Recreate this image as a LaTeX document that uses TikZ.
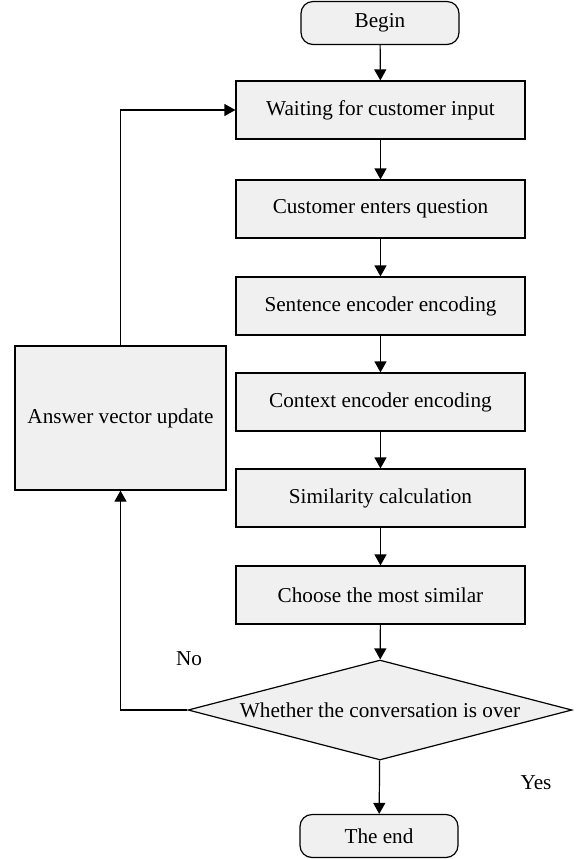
\documentclass[tikz,border=0pt]{standalone}
\usepackage{fontspec}
\setmainfont{Liberation Serif}
\usetikzlibrary{shapes.geometric,arrows.meta}
\begin{document}
\begin{tikzpicture}[x=0.5pt,y=-0.5pt,
  every node/.style={font=\fontsize{10.6}{12}\selectfont},
  proc/.style={draw,line width=0.6pt,fill=black!6,minimum width=144.5pt,minimum height=29pt,inner sep=0pt},
  term/.style={draw,line width=0.6pt,fill=black!6,rounded corners=6pt,minimum width=79pt,minimum height=21.5pt,inner sep=0pt},
  dec/.style={draw,line width=0.6pt,fill=black!6,diamond,aspect=3.84,minimum width=192pt,minimum height=50pt,inner sep=0pt},
  flow/.style={line width=0.6pt,-{Triangle[length=5.5pt,width=6pt]}},
  lbl/.style={inner sep=0pt}]
\useasboundingbox (0,0) rectangle (580,859);
\node[term] (begin) at (380,23) {Begin};
\node[proc] (wait) at (380.5,110) {Waiting for customer input};
\node[proc] (enter) at (380.5,209) {Customer enters question};
\node[proc] (sent) at (380.5,306) {Sentence encoder encoding};
\node[proc] (ctx) at (380.5,402) {Context encoder encoding};
\node[proc] (sim) at (380.5,498) {Similarity calculation};
\node[proc] (choose) at (380.5,595) {Choose the most similar};
\node[dec] (over) at (380,710) {Whether the conversation is over};
\node[term] (end) at (379,836) {The end};
\node[proc,minimum width=105.5pt,minimum height=72pt] (ans) at (120.5,418) {Answer vector update};
\node[lbl] (no) at (189,659) {No};
\node[lbl] (yes) at (536,783) {Yes};
\draw[flow] (begin) -- (wait);
\draw[flow] (wait) -- (enter);
\draw[flow] (enter) -- (sent);
\draw[flow] (sent) -- (ctx);
\draw[flow] (ctx) -- (sim);
\draw[flow] (sim) -- (choose);
\draw[flow] (choose) -- (over);
\draw[flow] (over) -- (end);
\draw[flow] (over.west) -| (ans.south);
\draw[flow] (ans.north) |- (wait.west);
\end{tikzpicture}
\end{document}
